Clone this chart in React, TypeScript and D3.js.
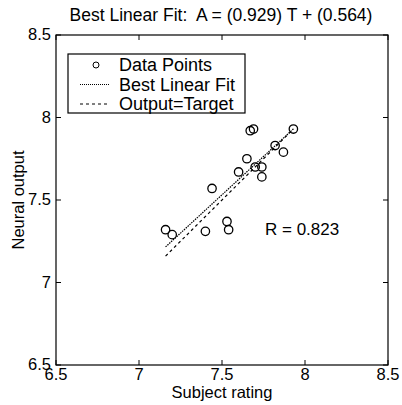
import { useRef, useEffect } from 'react';
import * as d3 from 'd3';

const subjectRating = [7.16, 7.2, 7.4, 7.44, 7.53, 7.54, 7.6, 7.65, 7.67, 7.69, 7.7, 7.74, 7.74, 7.82, 7.87, 7.93];
const neuralOutput = [7.32, 7.29, 7.31, 7.57, 7.37, 7.32, 7.67, 7.75, 7.92, 7.93, 7.7, 7.7, 7.64, 7.83, 7.79, 7.93];
const ticks = [6.5, 7, 7.5, 8, 8.5];
const legendLabels = ['Data Points', 'Best Linear Fit', 'Output=Target'];
const fitSlope = 0.929;
const fitOffset = 0.564;
const rValue = 0.823;

function App() {
  const svgRef = useRef<SVGSVGElement>(null);
  const width = 402;
  const height = 405;

  useEffect(() => {
    const margin = { top: 35, right: 14, bottom: 40, left: 56 };
    const svg = d3.select(svgRef.current);
    svg.selectAll('*').remove();
    const font = 'Liberation Sans, Arial, sans-serif';

    const x = d3.scaleLinear().domain([6.5, 8.5]).range([margin.left, width - margin.right]);
    const y = d3.scaleLinear().domain([6.5, 8.5]).range([height - margin.bottom, margin.top]);

    const data = subjectRating.map((t, i) => ({ t, a: neuralOutput[i] }));

    // frame
    svg
      .append('rect')
      .attr('x', x(6.5))
      .attr('y', y(8.5))
      .attr('width', x(8.5) - x(6.5))
      .attr('height', y(6.5) - y(8.5))
      .attr('fill', 'white')
      .attr('stroke', 'black')
      .attr('stroke-width', 1.2);

    // inward ticks on all sides
    const tl = 5;
    const tg = svg.append('g').attr('stroke', 'black').attr('stroke-width', 1);
    ticks.forEach((v) => {
      tg.append('line').attr('x1', x(v)).attr('x2', x(v)).attr('y1', y(6.5)).attr('y2', y(6.5) - tl);
      tg.append('line').attr('x1', x(v)).attr('x2', x(v)).attr('y1', y(8.5)).attr('y2', y(8.5) + tl);
      tg.append('line').attr('y1', y(v)).attr('y2', y(v)).attr('x1', x(6.5)).attr('x2', x(6.5) + tl);
      tg.append('line').attr('y1', y(v)).attr('y2', y(v)).attr('x1', x(8.5)).attr('x2', x(8.5) - tl);
    });

    // tick labels
    svg
      .append('g')
      .selectAll('text')
      .data(ticks)
      .join('text')
      .attr('x', (d) => x(d))
      .attr('y', y(6.5) + 15)
      .attr('text-anchor', 'middle')
      .style('font-family', font)
      .style('font-size', '16.5px')
      .text((d) => d);

    svg
      .append('g')
      .selectAll('text')
      .data(ticks)
      .join('text')
      .attr('x', x(6.5) - 5)
      .attr('y', (d) => y(d) + 5)
      .attr('text-anchor', 'end')
      .style('font-family', font)
      .style('font-size', '16.5px')
      .text((d) => d);

    // axis labels and title
    svg
      .append('text')
      .attr('x', (x(6.5) + x(8.5)) / 2)
      .attr('y', 398)
      .attr('text-anchor', 'middle')
      .style('font-family', font)
      .style('font-size', '16.5px')
      .text('Subject rating');

    svg
      .append('text')
      .attr('transform', `translate(24,${(y(6.5) + y(8.5)) / 2}) rotate(-90)`)
      .attr('text-anchor', 'middle')
      .style('font-family', font)
      .style('font-size', '16.5px')
      .text('Neural output');

    svg
      .append('text')
      .attr('x', 221)
      .attr('y', 21)
      .attr('text-anchor', 'middle')
      .style('font-family', font)
      .style('font-size', '17.5px')
      .style('white-space', 'pre')
      .text(`Best Linear Fit:  A = (${fitSlope}) T + (${fitOffset})`);

    const tMin = d3.min(subjectRating) as number;
    const tMax = d3.max(subjectRating) as number;

    // output = target
    svg
      .append('line')
      .attr('x1', x(tMin))
      .attr('y1', y(tMin))
      .attr('x2', x(tMax))
      .attr('y2', y(tMax))
      .attr('stroke', 'black')
      .attr('stroke-width', 1.2)
      .attr('stroke-dasharray', '3,3');

    // best linear fit
    svg
      .append('line')
      .attr('x1', x(tMin))
      .attr('y1', y(fitSlope * tMin + fitOffset))
      .attr('x2', x(tMax))
      .attr('y2', y(fitSlope * tMax + fitOffset))
      .attr('stroke', 'black')
      .attr('stroke-width', 1.2)
      .attr('stroke-dasharray', '1.5,1');

    // data points
    svg
      .append('g')
      .selectAll('circle')
      .data(data)
      .join('circle')
      .attr('cx', (d) => x(d.t))
      .attr('cy', (d) => y(d.a))
      .attr('r', 4.2)
      .attr('fill', 'none')
      .attr('stroke', 'black')
      .attr('stroke-width', 1.3);

    svg
      .append('text')
      .attr('x', 265)
      .attr('y', 235)
      .style('font-family', font)
      .style('font-size', '17px')
      .text(`R = ${rValue}`);

    // legend
    const lg = svg.append('g');
    lg.append('rect')
      .attr('x', 68)
      .attr('y', 54)
      .attr('width', 177)
      .attr('height', 59)
      .attr('fill', 'white')
      .attr('stroke', 'black')
      .attr('stroke-width', 1.2);
    legendLabels.forEach((label, i) => {
      const cy = 65 + i * 19.5;
      if (i === 0) {
        lg.append('circle').attr('cx', 96).attr('cy', cy).attr('r', 3).attr('fill', 'none').attr('stroke', 'black');
      } else {
        lg.append('line')
          .attr('x1', 80)
          .attr('x2', 110)
          .attr('y1', cy)
          .attr('y2', cy)
          .attr('stroke', 'black')
          .attr('stroke-dasharray', i === 1 ? '1,1' : '3,3');
      }
      lg.append('text')
        .attr('x', 119)
        .attr('y', cy + 6)
        .style('font-family', font)
        .style('font-size', '18px')
        .text(label);
    });
  }, []);

  return <svg ref={svgRef} width={width} height={height} style={{ position: 'absolute', left: 0, top: 0 }}></svg>;
}

export default App;
